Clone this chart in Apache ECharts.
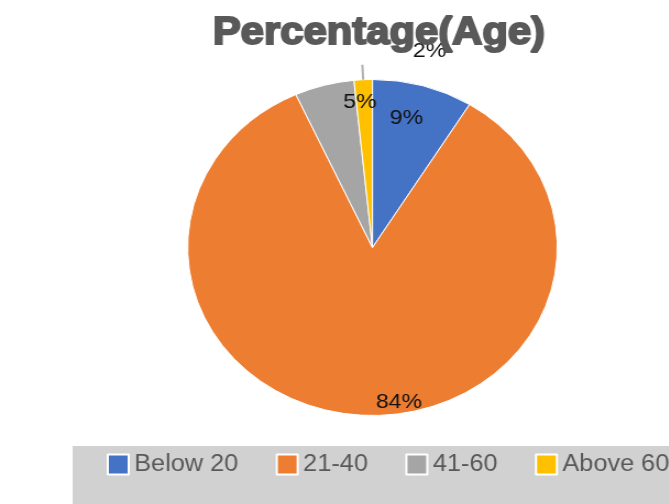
<!DOCTYPE html>
<html>
<head>
<meta charset="utf-8">
<script src="https://cdn.jsdelivr.net/npm/echarts@6/dist/echarts.min.js"></script>
<style>
  html, body { margin: 0; padding: 0; width: 669px; height: 504px; overflow: hidden; background: #fff; }
  /* the reference is stretched a little in x, so draw narrower and stretch */
  #main { width: 640px; height: 504px; transform: scaleX(1.1); transform-origin: 0 0; }
</style>
</head>
<body>
<div id="main"></div>
<script>
const categories = ['Below 20', '21-40', '41-60', 'Above 60'];
const shares = [8.8, 84.4, 5.2, 1.6];
const colors = ['#4472C4', '#ED7D31', '#A5A5A5', '#FFC000'];

// where each data label sits (chart px, before the stretch)
const labelPos = [[369.5, 118.5], [362.7, 402], [327.3, 102.5], [390.5, 51]];

const chart = echarts.init(document.getElementById('main'));

const pieData = categories.map(function(name, i) {
    return { name: name, value: shares[i], itemStyle: { color: colors[i] } };
});

// same slices, invisible, only used to draw the short leader line of the small slice
const lineData = categories.map(function(name, i) {
    const item = { name: name, value: shares[i] };
    if (i === 3) {
        item.label = { show: true };
        item.labelLine = { show: true };
    }
    return item;
});

chart.setOption({
    animation: false,
    title: {
        text: 'Percentage(Age)',
        left: 339.5,
        top: 10,
        textAlign: 'center',
        textStyle: {
            fontFamily: 'Liberation Sans',
            fontSize: 38,
            fontWeight: 'bold',
            color: '#595959',
            textBorderColor: '#595959',
            textBorderWidth: 2
        }
    },
    graphic: [{
        type: 'rect',
        z: -10,
        shape: { x: 66, y: 446, width: 600, height: 60 },
        style: { fill: '#d1d1d1' }
    }],
    legend: {
        left: 97,
        top: 453,
        padding: 0,
        icon: 'rect',
        itemWidth: 19,
        itemHeight: 20,
        itemGap: 34,
        selectedMode: false,
        textStyle: { fontFamily: 'Liberation Sans', fontSize: 23, color: '#595959' },
        data: categories
    },
    series: [{
        type: 'pie',
        center: [338.6, 247.5],
        radius: 168,
        startAngle: 90,
        clockwise: true,
        silent: true,
        itemStyle: { borderColor: '#fff', borderWidth: 1 },
        label: {
            position: 'inside',
            fontFamily: 'Liberation Sans',
            fontSize: 21,
            color: '#111',
            formatter: function(p) { return Math.round(p.value) + '%'; }
        },
        labelLine: { show: false },
        labelLayout: function(params) {
            const p = labelPos[params.dataIndex];
            return { x: p[0], y: p[1], align: 'center', verticalAlign: 'middle' };
        },
        data: pieData
    }, {
        type: 'pie',
        center: [338.6, 247.5],
        radius: 168,
        startAngle: 90,
        clockwise: true,
        silent: true,
        z: 3,
        itemStyle: { color: 'rgba(0,0,0,0)', borderWidth: 0 },
        label: { show: false, position: 'outside', formatter: ' ', fontSize: 4 },
        labelLine: { show: false, length: 15, length2: 0, smooth: false, lineStyle: { color: '#b0b0b0', width: 2 } },
        data: lineData
    }]
});
</script>
</body>
</html>
